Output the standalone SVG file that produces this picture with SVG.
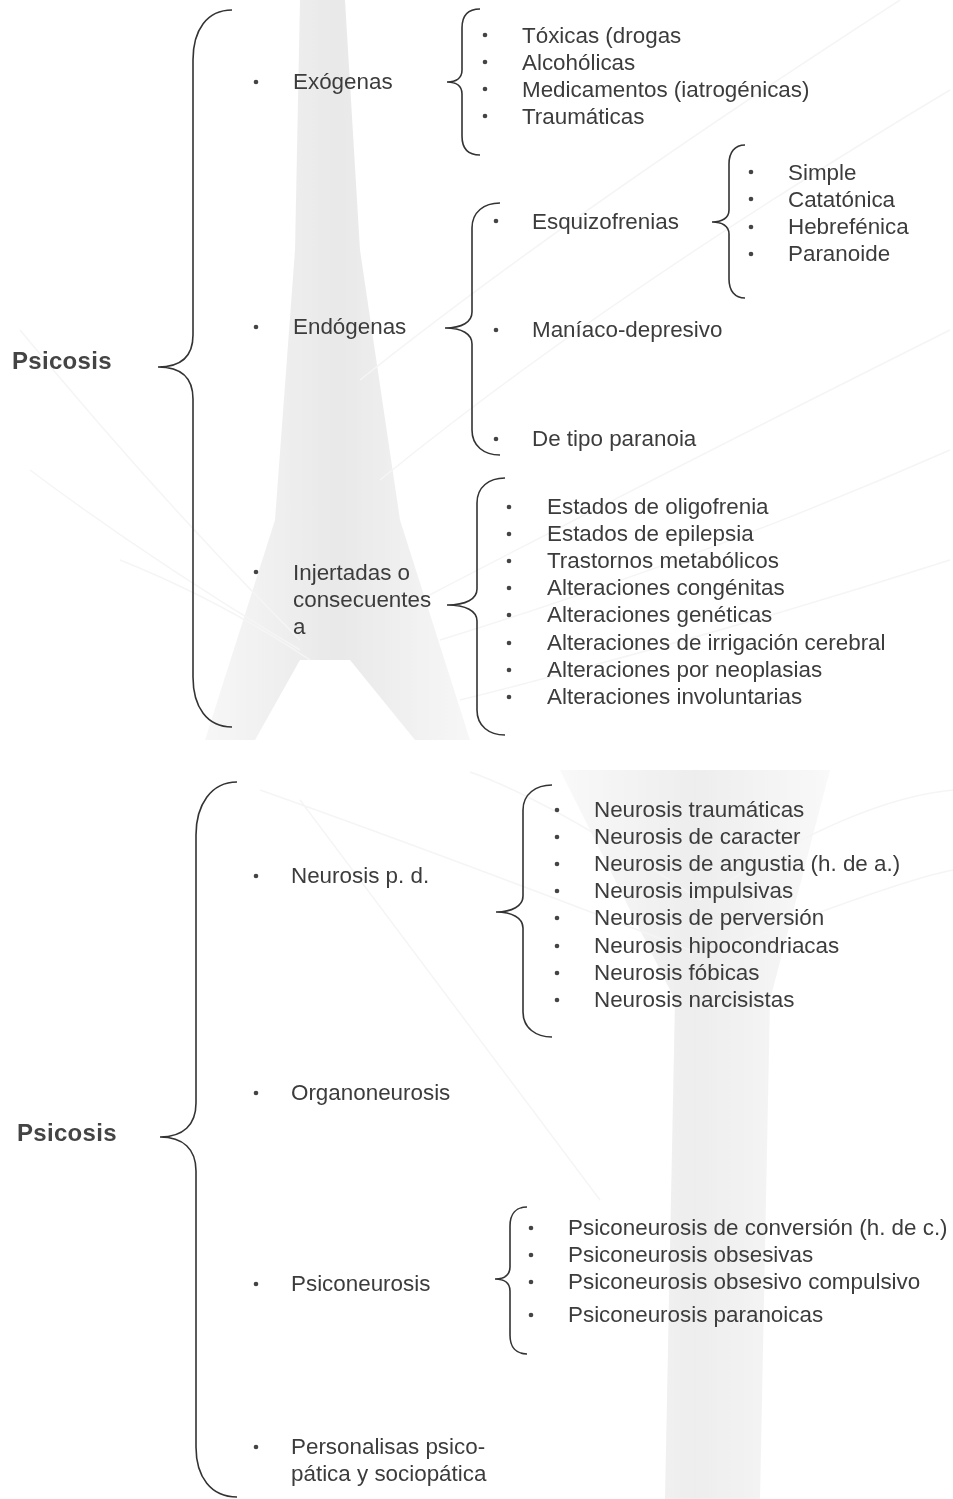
<svg xmlns="http://www.w3.org/2000/svg" width="953" height="1499" viewBox="0 0 953 1499">
<style>
text{font-family:"Liberation Sans",Arial,sans-serif;font-size:22.4px;fill:#3c3c3c;}
.t{font-weight:bold;font-size:24px;letter-spacing:0.3px;fill:#444;}
.br{fill:none;stroke:#333;stroke-width:1.6;}
.b{fill:#444;}
.ray{fill:none;stroke:#eeeeee;stroke-width:1.5;}
</style>
<defs>
<linearGradient id="tw" x1="0" y1="0" x2="1" y2="0">
<stop offset="0" stop-color="#f2f2f2"/><stop offset="0.5" stop-color="#dadada"/><stop offset="1" stop-color="#f2f2f2"/>
</linearGradient>
</defs>
<rect width="953" height="1499" fill="#fff"/>
<g id="background" opacity="0.6">
<path d="M300,0 L345,0 L360,250 L400,520 L470,740 L415,740 L350,660 L300,660 L255,740 L205,740 L275,520 L295,250 Z" fill="url(#tw)"/>
<path class="ray" d="M300,640 Q160,500 20,330 M300,650 Q150,560 30,470 M310,660 Q220,600 120,560 M420,600 Q650,480 950,330 M440,640 Q700,560 950,450 M460,700 Q700,640 950,560 M380,480 Q600,300 950,90 M360,380 Q560,220 900,0"/>
<path d="M560,770 L830,770 L770,1000 L760,1499 L665,1499 L675,1000 Z" fill="url(#tw)" opacity="0.8"/>
<path class="ray" d="M700,900 Q550,800 470,772 M700,900 Q850,800 953,790 M690,950 Q430,850 260,790 M720,950 Q900,880 953,870 M600,1200 Q450,1000 300,800"/>
</g>
<g id="connectors">
<path class="br" d="M232,10 C207,10 193,30 193,60 L193,335 C193,357 180,367 158,367 C180,367 193,377 193,399 L193,677 C193,707 207,727 232,727"/>
<path class="br" d="M480,9 C468,9 462,16 462,28 L462,70 C462,78 456,82 447,82 C456,82 462,86 462,94 L462,136 C462,148 468,155 480,155"/>
<path class="br" d="M745,145 C735,145 729,152 729,164 L729,210 C729,218 722,222 712,222 C722,222 729,226 729,234 L729,279 C729,291 735,298 745,298"/>
<path class="br" d="M500,203 C484,203 472,212 472,228 L472,312 C472,322 462,328 445,328 C462,328 472,334 472,344 L472,430 C472,446 484,455 500,455"/>
<path class="br" d="M505,478 C489,478 477,487 477,503 L477,589 C477,599 466,605 447,605 C466,605 477,611 477,621 L477,710 C477,726 489,735 505,735"/>
<path class="br" d="M237,782 C211,782 196,805 196,835 L196,1103 C196,1125 183,1137 160,1137 C183,1137 196,1149 196,1171 L196,1447 C196,1477 211,1497 237,1497"/>
<path class="br" d="M552,785 C536,785 523,794 523,810 L523,896 C523,906 512,912 496,912 C512,912 523,918 523,928 L523,1012 C523,1028 536,1037 552,1037"/>
<path class="br" d="M527,1207 C516,1207 510,1214 510,1226 L510,1267 C510,1275 504,1279 495,1279 C504,1279 510,1283 510,1291 L510,1335 C510,1347 516,1354 527,1354"/>
</g>
<g id="psicosis-top"><text class="t" x="12" y="369">Psicosis</text></g>
<g id="exogenas"><circle class="b" cx="256" cy="82" r="2.3"/><text x="293" y="89">Exógenas</text></g>
<g id="exogenas-items">
<circle class="b" cx="485" cy="35" r="2.3"/><text x="522" y="43">Tóxicas (drogas</text>
<circle class="b" cx="485" cy="62" r="2.3"/><text x="522" y="70">Alcohólicas</text>
<circle class="b" cx="485" cy="89" r="2.3"/><text x="522" y="97">Medicamentos (iatrogénicas)</text>
<circle class="b" cx="485" cy="116" r="2.3"/><text x="522" y="124">Traumáticas</text>
</g>
<g id="endogenas"><circle class="b" cx="256" cy="327" r="2.3"/><text x="293" y="334">Endógenas</text></g>
<g id="endogenas-items">
<circle class="b" cx="496" cy="221" r="2.3"/><text x="532" y="229">Esquizofrenias</text>
<circle class="b" cx="496" cy="330" r="2.3"/><text x="532" y="337">Maníaco-depresivo</text>
<circle class="b" cx="496" cy="439" r="2.3"/><text x="532" y="446">De tipo paranoia</text>
</g>
<g id="esquizo-items">
<circle class="b" cx="751" cy="172" r="2.3"/><text x="788" y="180">Simple</text>
<circle class="b" cx="751" cy="199" r="2.3"/><text x="788" y="207">Catatónica</text>
<circle class="b" cx="751" cy="227" r="2.3"/><text x="788" y="234">Hebrefénica</text>
<circle class="b" cx="751" cy="254" r="2.3"/><text x="788" y="261">Paranoide</text>
</g>
<g id="injertadas"><circle class="b" cx="256" cy="572" r="2.3"/>
<text x="293" y="580">Injertadas o</text><text x="293" y="607">consecuentes</text><text x="293" y="634">a</text></g>
<g id="injertadas-items">
<circle class="b" cx="509" cy="507" r="2.3"/><text x="547" y="514">Estados de oligofrenia</text>
<circle class="b" cx="509" cy="534" r="2.3"/><text x="547" y="541">Estados de epilepsia</text>
<circle class="b" cx="509" cy="561" r="2.3"/><text x="547" y="568">Trastornos metabólicos</text>
<circle class="b" cx="509" cy="588" r="2.3"/><text x="547" y="595">Alteraciones congénitas</text>
<circle class="b" cx="509" cy="615" r="2.3"/><text x="547" y="622">Alteraciones genéticas</text>
<circle class="b" cx="509" cy="643" r="2.3"/><text x="547" y="650">Alteraciones de irrigación cerebral</text>
<circle class="b" cx="509" cy="670" r="2.3"/><text x="547" y="677">Alteraciones por neoplasias</text>
<circle class="b" cx="509" cy="697" r="2.3"/><text x="547" y="704">Alteraciones involuntarias</text>
</g>
<g id="psicosis-bottom"><text class="t" x="17" y="1141">Psicosis</text></g>
<g id="neurosis-pd"><circle class="b" cx="256" cy="876" r="2.3"/><text x="291" y="883">Neurosis p. d.</text></g>
<g id="neurosis-items">
<circle class="b" cx="557" cy="810" r="2.3"/><text x="594" y="817">Neurosis traumáticas</text>
<circle class="b" cx="557" cy="837" r="2.3"/><text x="594" y="844">Neurosis de caracter</text>
<circle class="b" cx="557" cy="864" r="2.3"/><text x="594" y="871">Neurosis de angustia (h. de a.)</text>
<circle class="b" cx="557" cy="891" r="2.3"/><text x="594" y="898">Neurosis impulsivas</text>
<circle class="b" cx="557" cy="918" r="2.3"/><text x="594" y="925">Neurosis de perversión</text>
<circle class="b" cx="557" cy="946" r="2.3"/><text x="594" y="953">Neurosis hipocondriacas</text>
<circle class="b" cx="557" cy="973" r="2.3"/><text x="594" y="980">Neurosis fóbicas</text>
<circle class="b" cx="557" cy="1000" r="2.3"/><text x="594" y="1007">Neurosis narcisistas</text>
</g>
<g id="organoneurosis"><circle class="b" cx="256" cy="1093" r="2.3"/><text x="291" y="1100">Organoneurosis</text></g>
<g id="psiconeurosis"><circle class="b" cx="256" cy="1284" r="2.3"/><text x="291" y="1291">Psiconeurosis</text></g>
<g id="psiconeurosis-items">
<circle class="b" cx="531" cy="1228" r="2.3"/><text x="568" y="1235">Psiconeurosis de conversión (h. de c.)</text>
<circle class="b" cx="531" cy="1255" r="2.3"/><text x="568" y="1262">Psiconeurosis obsesivas</text>
<circle class="b" cx="531" cy="1282" r="2.3"/><text x="568" y="1289">Psiconeurosis obsesivo compulsivo</text>
<circle class="b" cx="531" cy="1315" r="2.3"/><text x="568" y="1322">Psiconeurosis paranoicas</text>
</g>
<g id="personalidades"><circle class="b" cx="256" cy="1447" r="2.3"/>
<text x="291" y="1454">Personalisas psico-</text><text x="291" y="1481">pática y sociopática</text></g>
</svg>
